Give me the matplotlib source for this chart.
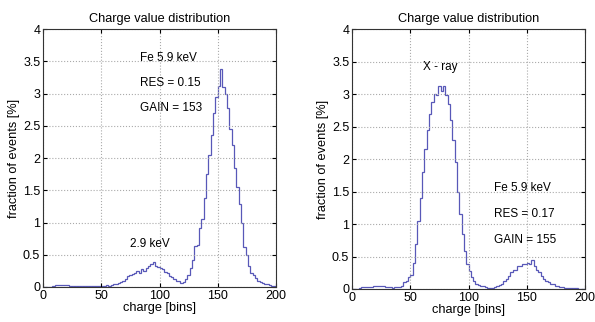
import numpy as np
import matplotlib
matplotlib.use('Agg')
import matplotlib.pyplot as plt

plt.rcParams['font.family'] = ['Liberation Sans', 'DejaVu Sans']

# histogram bin edges (charge bins, width 2)
bin_edges = np.arange(0, 202, 2)

# left panel: fraction of events [%] per bin
left_fraction = [
    0, 0, 0, 0, 0.02, 0.03, 0.03, 0.03, 0.03, 0.03,
    0.03, 0.02, 0.02, 0.02, 0.02, 0.01, 0.01, 0.01, 0.02, 0.01,
    0.01, 0.02, 0.01, 0.02, 0.02, 0.02, 0.01, 0.03, 0.02, 0.03,
    0.04, 0.05, 0.06, 0.08, 0.10, 0.13, 0.17, 0.18, 0.20, 0.21,
    0.25, 0.22, 0.28, 0.25, 0.30, 0.33, 0.36, 0.38, 0.32, 0.31,
    0.30, 0.28, 0.24, 0.22, 0.17, 0.16, 0.12, 0.10, 0.09, 0.06,
    0.08, 0.12, 0.18, 0.30, 0.42, 0.63, 0.65, 0.92, 1.05, 1.38,
    1.75, 2.05, 2.35, 2.70, 2.95, 3.12, 3.38, 3.10, 3.00, 2.78,
    2.45, 2.20, 1.85, 1.55, 1.28, 1.00, 0.62, 0.50, 0.32, 0.22,
    0.18, 0.14, 0.10, 0.08, 0.06, 0.05, 0.04, 0.03, 0.02, 0.02,
]

# right panel: fraction of events [%] per bin
right_fraction = [
    0, 0, 0, 0.02, 0.03, 0.03, 0.03, 0.03, 0.03, 0.04,
    0.04, 0.04, 0.05, 0.04, 0.03, 0.03, 0.03, 0.02, 0.03, 0.03,
    0.03, 0.05, 0.10, 0.12, 0.18, 0.22, 0.40, 0.70, 1.05, 1.40,
    1.80, 2.15, 2.45, 2.70, 2.88, 3.00, 2.98, 3.12, 3.05, 3.12,
    2.98, 2.85, 2.60, 2.30, 1.95, 1.50, 1.15, 0.85, 0.58, 0.38,
    0.28, 0.18, 0.12, 0.08, 0.06, 0.05, 0.04, 0.03, 0.02, 0.02,
    0.02, 0.03, 0.04, 0.06, 0.08, 0.12, 0.16, 0.20, 0.26, 0.30,
    0.30, 0.35, 0.36, 0.38, 0.38, 0.40, 0.38, 0.44, 0.35, 0.30,
    0.26, 0.20, 0.16, 0.12, 0.10, 0.08, 0.07, 0.05, 0.04, 0.03,
    0.03, 0.02, 0.02, 0.01, 0.01, 0.01, 0.01, 0, 0, 0,
]

left_labels = [(83, 3.55, 'Fe 5.9 keV'), (83, 3.17, 'RES = 0.15'),
               (83, 2.77, 'GAIN = 153'), (75, 0.66, '2.9 keV')]
right_labels = [(61, 3.42, 'X - ray'), (122, 1.55, 'Fe 5.9 keV'),
                (122, 1.16, 'RES = 0.17'), (122, 0.75, 'GAIN = 155')]

LINE_COLOR = '#5858b8'


def draw_panel(ax, values, labels):
    ax.stairs(values, bin_edges, color=LINE_COLOR, linewidth=0.9)
    ax.set_xlim(0, 200)
    ax.set_ylim(0, 4)
    ax.set_xticks([0, 50, 100, 150, 200])
    ax.set_yticks(np.arange(0, 4.5, 0.5))
    ax.set_yticklabels(['0', '0.5', '1', '1.5', '2', '2.5', '3', '3.5', '4'])
    ax.grid(True, linestyle=':', color='#aaaaaa', linewidth=0.8)
    ax.tick_params(labelsize=9, length=3, direction='in', top=True, right=True, pad=2)
    for side in ax.spines.values():
        side.set_linewidth(0.8)
        side.set_color('#333333')
    ax.set_title('Charge value distribution', fontsize=9.2, pad=5)
    ax.set_xlabel('charge [bins]', fontsize=9.2, labelpad=0)
    ax.set_ylabel('fraction of events [%]', fontsize=9.2, labelpad=2)
    for x, y, text in labels:
        ax.text(x, y, text, fontsize=8.5, va='center', ha='left')


fig = plt.figure(figsize=(5.95, 3.22), dpi=100)
ax_left = fig.add_axes([0.0723, 0.1087, 0.3916, 0.801])
ax_right = fig.add_axes([0.5916, 0.1025, 0.3916, 0.807])
draw_panel(ax_left, left_fraction, left_labels)
draw_panel(ax_right, right_fraction, right_labels)

fig.savefig('out.png', dpi=100)
